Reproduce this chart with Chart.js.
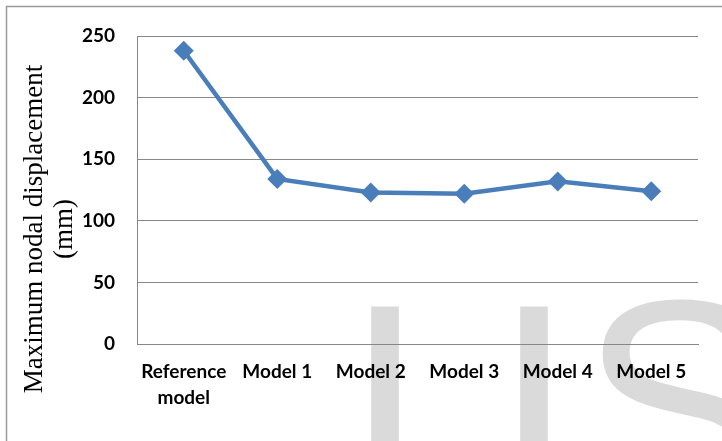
<!DOCTYPE html>
<html>
<head>
<meta charset="utf-8">
<script src="https://cdn.jsdelivr.net/npm/chart.js@4"></script>
<style>
  html, body { margin: 0; padding: 0; background: #ffffff; }
  #wrap { width: 722px; height: 441px; position: relative; }
</style>
</head>
<body>
<div id="wrap"><canvas id="chart" width="722" height="441"></canvas></div>
<script>
// Model names along the horizontal axis
const categories = [['Reference', 'model'], 'Model 1', 'Model 2', 'Model 3', 'Model 4', 'Model 5'];
// Maximum nodal displacement of each model (mm)
const displacement = [238, 134, 123, 122, 132, 124];
// Vertical axis range and step
const yMin = 0;
const yMax = 250;
const yStep = 50;
// Axis title lines
const yTitle = ['Maximum nodal displacement', '(mm)'];

const lineColor = '#4a7ebb';
const gridColor = '#878787';
const tickFont = { family: 'Lato', weight: 'bold', size: 19 };

// Faint grey lettering behind the chart
const watermark = {
  id: 'watermark',
  beforeDraw(chart) {
    const ctx = chart.ctx;
    ctx.save();
    ctx.fillStyle = '#dadada';
    ctx.font = '296px "Liberation Sans"';
    ctx.textBaseline = 'alphabetic';
    ctx.textAlign = 'left';
    const place = (ch, x, topY) => {
      const m = ctx.measureText(ch);
      ctx.fillText(ch, x + m.actualBoundingBoxLeft, topY + m.actualBoundingBoxAscent);
    };
    place('I', 367, 302);
    place('I', 516, 302);
    place('S', 589, 298);
    ctx.restore();
  }
};

// Frame around the figure and the rotated axis title
const frame = {
  id: 'frame',
  afterDraw(chart) {
    const ctx = chart.ctx;
    ctx.save();
    ctx.strokeStyle = '#9a9a9a';
    ctx.lineWidth = 1.5;
    ctx.beginPath();
    ctx.moveTo(6.5, 441);
    ctx.lineTo(6.5, 6.5);
    ctx.lineTo(722, 6.5);
    ctx.stroke();

    ctx.fillStyle = '#000000';
    ctx.font = '27px "Liberation Serif"';
    ctx.textAlign = 'center';
    ctx.textBaseline = 'alphabetic';
    const cy = 229;
    const baselines = [42, 71.5];
    yTitle.forEach((line, i) => {
      ctx.save();
      ctx.translate(baselines[i], cy);
      ctx.rotate(-Math.PI / 2);
      ctx.fillText(line, 0, 0);
      ctx.restore();
    });
    ctx.restore();
  }
};

new Chart(document.getElementById('chart'), {
  type: 'line',
  data: {
    labels: categories,
    datasets: [{
      data: displacement,
      borderColor: lineColor,
      backgroundColor: lineColor,
      borderWidth: 4.5,
      pointStyle: 'rectRot',
      pointRadius: 10,
      pointHoverRadius: 10,
      pointBorderWidth: 0,
      pointBackgroundColor: lineColor,
      tension: 0,
      fill: false
    }]
  },
  options: {
    responsive: false,
    animation: false,
    devicePixelRatio: 1,
    layout: { padding: { top: 36, right: 24, left: 0, bottom: 0 } },
    plugins: {
      legend: { display: false },
      tooltip: { enabled: false },
      title: { display: false }
    },
    scales: {
      x: {
        type: 'category',
        offset: true,
        grid: { display: false, drawTicks: false },
        border: { display: true, color: gridColor, width: 1 },
        ticks: {
          color: '#000000',
          font: { ...tickFont, lineHeight: 1.37 },
          padding: 15,
          maxRotation: 0,
          autoSkip: false
        },
        afterFit(scale) { scale.height = 97; }
      },
      y: {
        min: yMin,
        max: yMax,
        grid: { color: gridColor, lineWidth: 1, drawTicks: false },
        border: { display: true, color: gridColor, width: 1 },
        ticks: {
          stepSize: yStep,
          color: '#000000',
          font: tickFont,
          padding: 22
        },
        afterFit(scale) { scale.width = 137; }
      }
    }
  },
  plugins: [watermark, frame]
});
</script>
</body>
</html>
